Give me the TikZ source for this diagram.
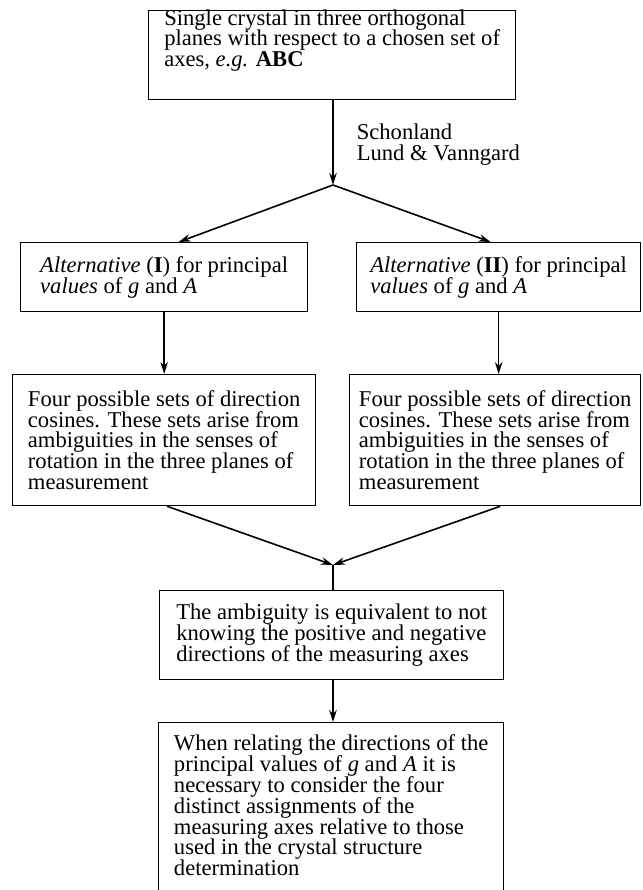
\documentclass[tikz,border=0pt]{standalone}
\usepackage{fontspec}
\setmainfont{Liberation Serif}
\usetikzlibrary{arrows.meta}
\tikzset{
  box/.style={draw, line width=1.3pt, align=left, inner xsep=0pt, inner ysep=0pt,
    anchor=north west, font=\fontsize{22.6}{20.8}\selectfont},
  note/.style={align=left, inner sep=0pt, font=\fontsize{22.6}{20.8}\selectfont},
}
\begin{document}
\begin{tikzpicture}[x=1pt,y=-1pt,line width=1.6pt,>={Stealth[length=12pt,width=7.5pt]}]
  \useasboundingbox (0,0) rectangle (642,890);
  \node[box, minimum width=367pt, text height=56pt, text depth=33pt] (crystal) at (148,10)
    {Single crystal in three orthogonal\\planes with respect to a chosen set of\\axes, \textit{e.g.} \textbf{ABC}};
  \node[note, anchor=west] (authors) at (356,145) {Schonland\\Lund \& Vanngard};
  \coordinate (fork) at (333,185);
  \node[box, minimum width=287pt, minimum height=69pt] (altI) at (20,242)
    {\textit{Alternative} (\textbf{I}) for principal\\\textit{values} of \textit{g} and \textit{A}};
  \node[box, minimum width=284pt, minimum height=69pt] (altII) at (356,242)
    {\textit{Alternative} (\textbf{II}) for principal\\\textit{values} of \textit{g} and \textit{A}};
  \node[box, minimum width=303pt, minimum height=131pt] (fourI) at (12,374)
    {Four possible sets of direction\\cosines. These sets arise from\\ambiguities in the senses of\\rotation in the three planes of\\measurement};
  \node[box, minimum width=291pt, minimum height=131pt] (fourII) at (349,374)
    {Four possible sets of direction\\cosines. These sets arise from\\ambiguities in the senses of\\rotation in the three planes of\\measurement};
  \coordinate (join) at (333,565);
  \node[box, minimum width=344pt, minimum height=89pt] (ambig) at (159,590)
    {The ambiguity is equivalent to not\\knowing the positive and negative\\directions of the measuring axes};
  \node[box, minimum width=345pt, text height=153pt, text depth=25pt] (final) at (158,722)
    {When relating the directions of the\\principal values of \textit{g} and \textit{A} it is\\necessary to consider the four\\distinct assignments of the\\measuring axes relative to those\\used in the crystal structure\\determination};
  % connectors
  \draw[->] (crystal.south -| fork) -- (fork);
  \draw[->] (fork) -- ([xshift=14.5pt]altI.north);
  \draw[->] (fork) -- ([xshift=-8pt]altII.north);
  \draw[->] (altI.south) -- (fourI.north);
  \draw[->] (altII.south) -- (altII.south |- fourII.north);
  \draw[->] ([xshift=3pt]fourI.south) -- (join);
  \draw[->] ([xshift=5pt]fourII.south) -- (join);
  \draw (join) -- (join |- ambig.north);
  \draw[->] (join |- ambig.south) -- (join |- final.north);
\end{tikzpicture}
\end{document}
